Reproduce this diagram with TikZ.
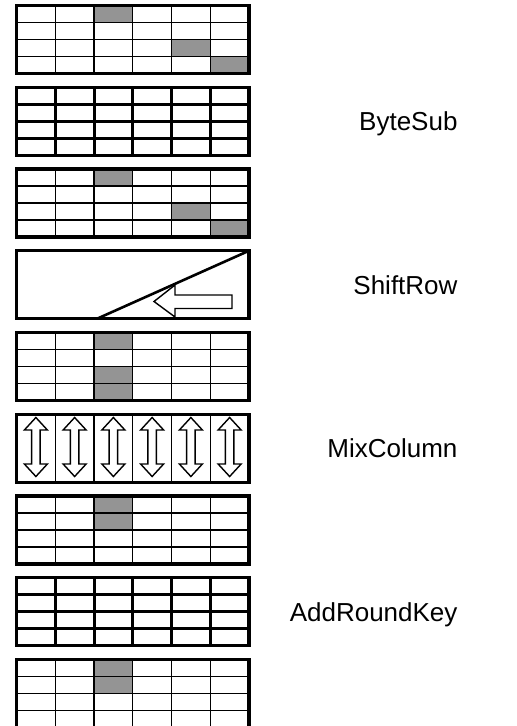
\documentclass[tikz,border=0pt]{standalone}
\usepackage{fontspec}
\setmainfont{Liberation Sans}
\definecolor{cellgray}{gray}{0.58}
% one AES state: 6 columns x 4 rows, top edge at #1, inner lines in style #2
\newcommand{\aesgrid}[2]{%
  \foreach \i in {1,...,5} \draw[#2] (16.5+\i*38.75,#1) -- ++(0,68);
  \foreach \j in {1,2,3} \draw[#2] (16.5,#1+\j*17) -- ++(232.5,0);
  \draw[boxframe] (16.5,#1) rectangle ++(232.5,68);
}
% shaded byte at column #2, row #3 of the state whose top edge is #1
\newcommand{\aescell}[3]{%
  \fill[cellgray] (16.5+#2*38.75,#1+#3*17) rectangle ++(38.75,17);
}
\begin{document}
\begin{tikzpicture}[x=1pt,y=-1pt,
  boxframe/.style={line width=3.2pt},
  gridthin/.style={line width=1.2pt},
  gridthick/.style={line width=3pt},
  oplabel/.style={anchor=base east,font=\fontsize{26}{30}\selectfont},
  hollowarrow/.style={line width=1.4pt,fill=white,line join=miter}]
\useasboundingbox (0,0) rectangle (517,726);
\clip (0,0) rectangle (517,726);

% input state
\aescell{5.5}{2}{0}\aescell{5.5}{4}{2}\aescell{5.5}{5}{3}
\aesgrid{5.5}{gridthin}

% ByteSub
\aesgrid{87.25}{gridthick}
\node[oplabel] (bytesub) at (461,130.55) {ByteSub};

\aescell{169}{2}{0}\aescell{169}{4}{2}\aescell{169}{5}{3}
\aesgrid{169}{gridthin}

% ShiftRow
\draw[boxframe] (16.5,250.75) rectangle (249,318.75);
\draw[hollowarrow] (232,295) -- (175,295) -- (175,285) -- (154,301.5)
  -- (175,317) -- (175,308.5) -- (232,308.5) -- cycle;
\draw[line width=2.6pt] (97,318.75) -- (249,250.75);
\node[oplabel] (shiftrow) at (461,294.05) {ShiftRow};

\aescell{332.5}{2}{0}\aescell{332.5}{2}{2}\aescell{332.5}{2}{3}
\aesgrid{332.5}{gridthin}

% MixColumn
\foreach \i in {1,...,5} \draw[gridthin] (16.5+\i*38.75,414.25) -- ++(0,68);
\draw[boxframe] (16.5,414.25) rectangle ++(232.5,68);
\foreach \i in {0,...,5} {
  \pgfmathsetmacro\cx{16.5+(\i+0.5)*38.75}
  \draw[hollowarrow] (\cx,417.5) -- (\cx+11.5,430) -- (\cx+4.3,430)
    -- (\cx+4.3,464) -- (\cx+11.5,464) -- (\cx,476.5) -- (\cx-11.5,464)
    -- (\cx-4.3,464) -- (\cx-4.3,430) -- (\cx-11.5,430) -- cycle;
}
\node[oplabel] (mixcolumn) at (461,457.55) {MixColumn};

\aescell{496}{2}{0}\aescell{496}{2}{1}
\aesgrid{496}{gridthin}

% AddRoundKey
\aesgrid{577.75}{gridthick}
\node[oplabel] (addroundkey) at (461,621.05) {AddRoundKey};

% output state
\aescell{659.5}{2}{0}\aescell{659.5}{2}{1}
\aesgrid{659.5}{gridthin}
\end{tikzpicture}
\end{document}
